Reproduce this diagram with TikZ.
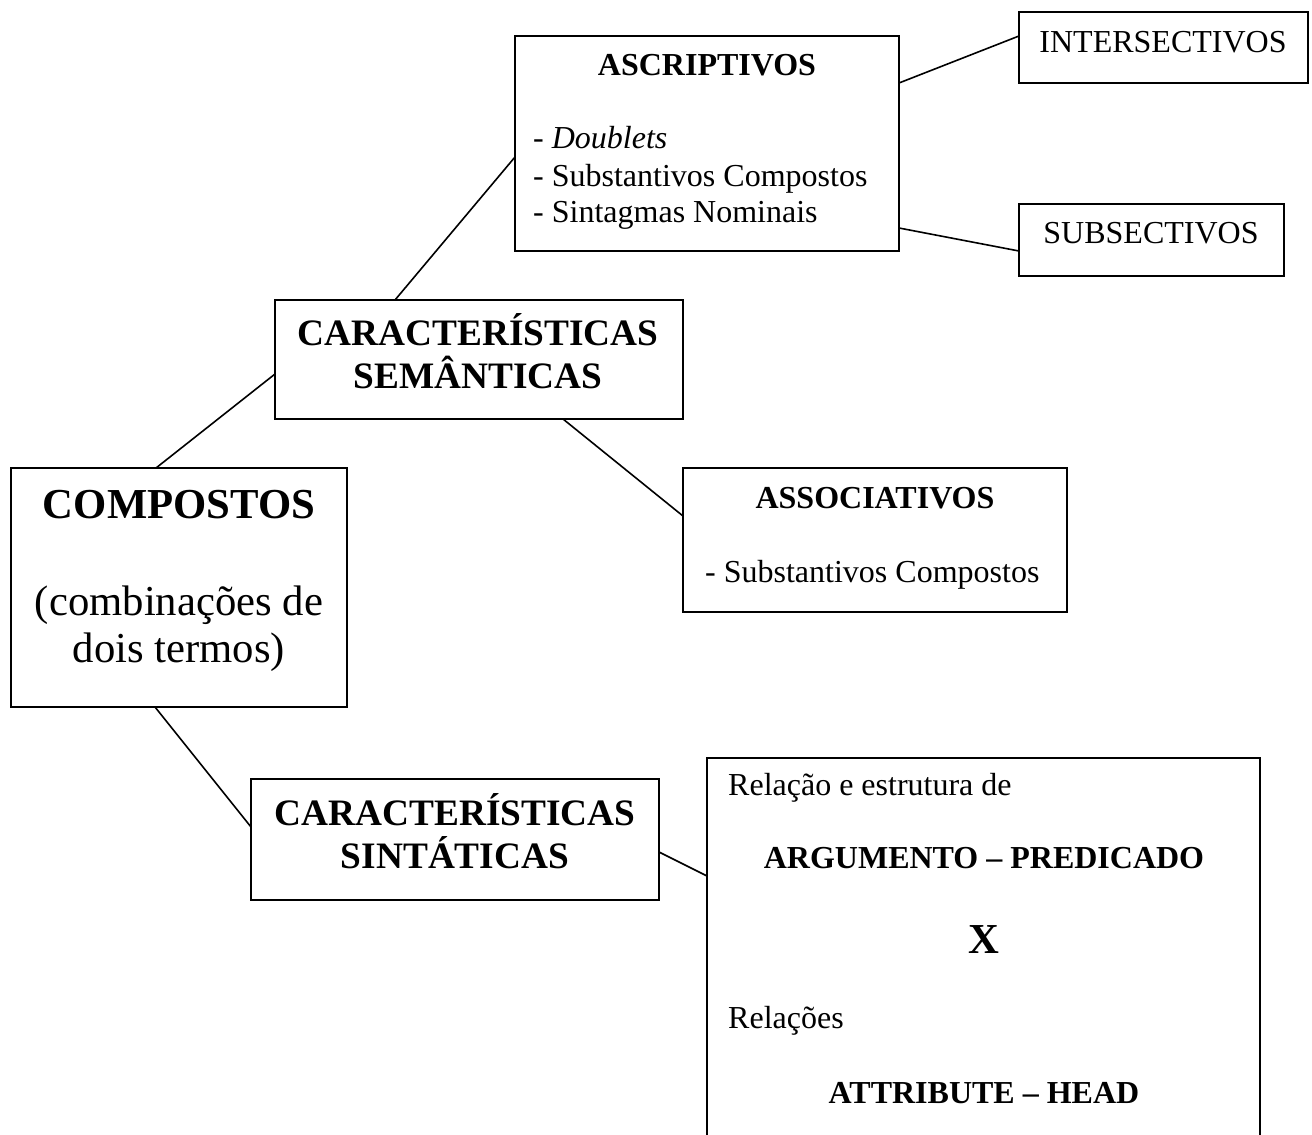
\documentclass[tikz,border=0pt]{standalone}
\usepackage{fontspec}
\setmainfont{Liberation Serif}
\usetikzlibrary{calc}
\begin{document}
\begin{tikzpicture}[x=1pt,y=-1pt,
  box/.style={draw,line width=2pt,anchor=north west,inner sep=0pt,outer sep=0pt},
  link/.style={line width=1.6pt},
  sm/.style={font=\fontsize{32}{37}\selectfont,inner sep=0pt},
  smb/.style={font=\fontsize{32}{37}\selectfont\bfseries,inner sep=0pt},
  mdb/.style={font=\fontsize{37.3}{43}\selectfont\bfseries,inner sep=0pt},
  lg/.style={font=\fontsize{42.7}{48}\selectfont,inner sep=0pt},
  lgb/.style={font=\fontsize{42.7}{48}\selectfont\bfseries,inner sep=0pt}]
\path[use as bounding box,clip] (0,0) rectangle (1312,1135);
\fill[white] (0,0) rectangle (1312,1135);
% boxes
\node[box,minimum width=384pt,minimum height=215pt] (asc) at (515,36) {};
\node[box,minimum width=289pt,minimum height=71pt] (inter) at (1019,12) {};
\node[box,minimum width=265pt,minimum height=72pt] (subs) at (1019,204) {};
\node[box,minimum width=408pt,minimum height=119pt] (sem) at (275,300) {};
\node[box,minimum width=336pt,minimum height=239pt] (comp) at (11,468) {};
\node[box,minimum width=384pt,minimum height=144pt] (assoc) at (683,468) {};
\node[box,minimum width=408pt,minimum height=121pt] (sin) at (251,779) {};
\node[box,minimum width=553pt,minimum height=420pt] (rel) at (707,758) {};
% texts
\node[smb,anchor=base] (ascT) at (707,75) {ASCRIPTIVOS};
\node[sm,anchor=base west] (ascA) at (533,148) {- \textit{Doublets}};
\node[sm,anchor=base west] (ascB) at (533,186) {- Substantivos Compostos};
\node[sm,anchor=base west] (ascC) at (533,222) {- Sintagmas Nominais};
\node[sm,anchor=base] (interT) at (1163,52) {INTERSECTIVOS};
\node[sm,anchor=base] (subsT) at (1151,243) {SUBSECTIVOS};
\node[mdb,anchor=base] (semA) at (478,345) {CARACTERÍSTICAS};
\node[mdb,anchor=base] (semB) at (478,388) {SEMÂNTICAS};
\node[lgb,anchor=base] (compT) at (179,518) {COMPOSTOS};
\node[lg,anchor=base] (compA) at (179,615) {(combinações de};
\node[lg,anchor=base] (compB) at (179,662) {dois termos)};
\node[smb,anchor=base] (assocT) at (875,508) {ASSOCIATIVOS};
\node[sm,anchor=base west] (assocA) at (705,582) {- Substantivos Compostos};
\node[mdb,anchor=base] (sinA) at (455,825) {CARACTERÍSTICAS};
\node[mdb,anchor=base] (sinB) at (455,868) {SINTÁTICAS};
\node[sm,anchor=base west] (relA) at (728,795) {Relação e estrutura de};
\node[smb,anchor=base] (relB) at (984,868) {ARGUMENTO – PREDICADO};
\node[lgb,anchor=base] (relX) at (984,953) {X};
\node[sm,anchor=base west] (relC) at (728,1028) {Relações};
\node[smb,anchor=base] (relD) at (984,1103) {ATTRIBUTE – HEAD};
% connectors
\draw[link] ($(comp.north west)+(145,0)$) -- ($(sem.north west)+(0,74)$);
\draw[link] ($(sem.north west)+(120,0)$) -- ($(asc.north west)+(0,121)$);
\draw[link] ($(asc.north east)+(0,47)$) -- ($(inter.north west)+(0,24)$);
\draw[link] ($(asc.north east)+(0,192)$) -- ($(subs.north west)+(0,47)$);
\draw[link] ($(sem.south west)+(288,0)$) -- ($(assoc.north west)+(0,48)$);
\draw[link] ($(comp.south west)+(144,0)$) -- ($(sin.north west)+(0,48)$);
\draw[link] ($(sin.north east)+(0,73)$) -- ($(rel.north west)+(0,118)$);
\end{tikzpicture}
\end{document}
